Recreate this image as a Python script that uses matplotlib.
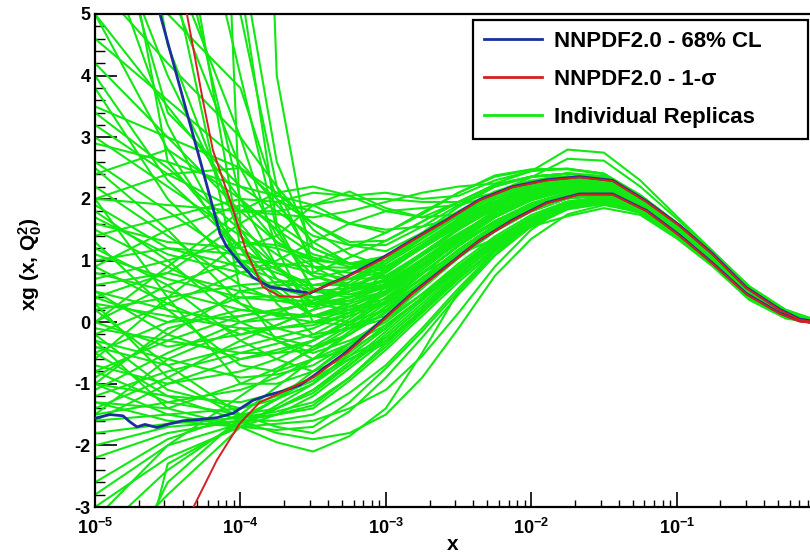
import numpy as np
import matplotlib
matplotlib.use("Agg")
import matplotlib.pyplot as plt
from matplotlib.ticker import LogLocator, NullFormatter, MultipleLocator

# ---------------- data (log10 x positions and xg values) ----------------
replica_logx = [-5, -4.5, -4, -3.75, -3.5, -3.25, -3, -2.75, -2.5, -2.25,
                -2, -1.75, -1.5, -1.25, -1, -0.75, -0.5, -0.25, 0]

replicas = [
    [-1.2, -0.8, -0.5, -0.35, -0.2, 0.1, 0.57, 1.00, 1.42, 1.78, 2.03, 2.17, 2.18, 1.93, 1.50, 1.03, 0.47, 0.13, -0.02],
    [0.8, 0.5, 0.2, 0.12, 0.1, 0.3, 0.82, 1.21, 1.60, 1.93, 2.14, 2.25, 2.23, 1.96, 1.52, 1.05, 0.50, 0.14, -0.02],
    [-0.3, -0.6, -0.9, -0.85, -0.7, -0.35, 0.07, 0.58, 1.06, 1.48, 1.80, 2.01, 2.06, 1.86, 1.44, 0.98, 0.43, 0.10, -0.03],
    [1.5, 0.9, 0.3, 0.1, 0.0, 0.2, 0.45, 0.85, 1.30, 1.70, 1.98, 2.15, 2.17, 1.92, 1.49, 1.02, 0.46, 0.12, -0.02],
    [0.2, 0.4, 0.6, 0.65, 0.7, 0.85, 1.07, 1.42, 1.77, 2.08, 2.25, 2.33, 2.29, 1.99, 1.55, 1.07, 0.52, 0.15, -0.02],
    [-1.5, -1.3, -1.1, -0.9, -0.6, -0.35, -0.05, 0.37, 0.88, 1.33, 1.69, 1.93, 2.00, 1.83, 1.41, 0.96, 0.41, 0.09, -0.03],
    [2.2, 1.4, 0.6, 0.35, 0.25, 0.4, 0.70, 1.12, 1.52, 1.86, 2.08, 2.20, 2.20, 1.95, 1.51, 1.04, 0.48, 0.13, -0.02],
    [-0.8, -0.3, 0.1, 0.2, 0.3, 0.5, 0.85, 1.25, 1.66, 2.00, 2.20, 2.30, 2.27, 1.98, 1.54, 1.06, 0.51, 0.15, -0.02],
    [0.5, -0.2, -0.6, -0.5, -0.3, 0.0, 0.32, 0.79, 1.24, 1.63, 1.91, 2.09, 2.12, 1.89, 1.47, 1.00, 0.45, 0.11, -0.03],
    [-1.0, -1.2, -1.3, -1.15, -0.9, -0.6, -0.35, 0.20, 0.72, 1.18, 1.58, 1.85, 1.95, 1.80, 1.39, 0.94, 0.38, 0.08, -0.04],
    [1.0, 1.2, 1.1, 0.95, 0.8, 1.05, 1.32, 1.63, 1.95, 2.23, 2.36, 2.41, 2.35, 2.02, 1.58, 1.09, 0.55, 0.16, -0.01],
    [-0.5, 0.0, 0.4, 0.42, 0.4, 0.5, 0.67, 1.08, 1.50, 1.84, 2.07, 2.20, 2.20, 1.94, 1.50, 1.03, 0.48, 0.13, -0.02],
    [0.0, -0.4, -0.2, -0.1, 0.0, 0.1, 0.30, 0.72, 1.17, 1.57, 1.87, 2.06, 2.10, 1.88, 1.46, 0.99, 0.44, 0.11, -0.03],
    [3.0, 2.2, 1.4, 0.9, 0.5, 0.55, 0.80, 1.22, 1.64, 1.96, 2.16, 2.27, 2.24, 1.96, 1.52, 1.05, 0.50, 0.14, -0.02],
    [-1.4, -0.9, -0.3, -0.05, 0.2, 0.6, 0.95, 1.35, 1.74, 2.05, 2.23, 2.31, 2.28, 1.98, 1.54, 1.06, 0.51, 0.15, -0.02],
    [0.3, 0.1, -0.1, -0.3, -0.5, -0.3, 0.0, 0.46, 0.95, 1.39, 1.74, 1.96, 2.02, 1.84, 1.42, 0.97, 0.42, 0.09, -0.03],
    [1.8, 1.0, 0.0, -0.25, -0.4, -0.2, 0.17, 0.66, 1.13, 1.54, 1.85, 2.04, 2.08, 1.87, 1.45, 0.99, 0.44, 0.10, -0.03],
    [-0.2, 0.3, 0.8, 0.9, 1.0, 1.2, 1.45, 1.78, 2.10, 2.36, 2.47, 2.48, 2.40, 2.06, 1.61, 1.12, 0.57, 0.18, -0.01],
    [-0.7, -1.0, -0.8, -0.6, -0.3, 0.05, 0.47, 0.92, 1.35, 1.72, 1.99, 2.14, 2.16, 1.92, 1.49, 1.02, 0.46, 0.12, -0.02],
    [0.6, 0.8, 0.5, 0.4, 0.3, 0.4, 0.60, 0.95, 1.30, 1.60, 1.85, 2.02, 2.07, 1.87, 1.44, 0.98, 0.43, 0.10, -0.03],
    [-1.1, -0.5, 0.0, 0.05, 0.1, 0.25, 0.50, 0.95, 1.40, 1.82, 2.12, 2.30, 2.29, 1.99, 1.55, 1.07, 0.52, 0.15, -0.02],
    [1.2, 0.6, -0.3, -0.6, -0.8, -0.55, -0.25, 0.25, 0.78, 1.24, 1.62, 1.88, 1.97, 1.81, 1.40, 0.95, 0.39, 0.08, -0.04],
    [2.6, 1.8, 1.0, 0.8, 0.6, 0.7, 1.00, 1.45, 1.87, 2.20, 2.36, 2.41, 2.35, 2.02, 1.58, 1.09, 0.55, 0.16, -0.01],
    [-1.6, -1.5, -1.4, -1.25, -1.0, -0.6, -0.30, 0.20, 0.70, 1.20, 1.62, 1.92, 2.02, 1.85, 1.43, 0.97, 0.42, 0.09, -0.03],
    [0.0, 0.6, 1.0, 0.95, 0.9, 0.88, 0.88, 1.26, 1.64, 1.96, 2.16, 2.27, 2.24, 1.96, 1.52, 1.05, 0.50, 0.14, -0.02],
    [-0.4, -0.7, -0.4, -0.25, -0.1, 0.15, 0.45, 0.90, 1.35, 1.76, 2.07, 2.23, 2.22, 1.95, 1.52, 1.05, 0.50, 0.14, -0.02],
    [9.0, 5.5, 2.5, 1.4, 0.75, 0.55, 0.57, 1.00, 1.42, 1.78, 2.03, 2.17, 2.18, 1.93, 1.50, 1.03, 0.47, 0.13, -0.02],
    [7.0, 4.0, 1.6, 0.9, 0.4, 0.25, 0.30, 0.70, 1.10, 1.50, 1.81, 2.01, 2.06, 1.86, 1.44, 0.98, 0.43, 0.10, -0.03],
    [12.0, 7.0, 2.0, 0.9, 0.3, 0.2, 0.32, 0.79, 1.24, 1.63, 1.91, 2.09, 2.12, 1.89, 1.47, 1.00, 0.45, 0.11, -0.03],
    [5.0, 3.5, 2.0, 1.3, 0.9, 0.8, 0.85, 1.21, 1.60, 1.93, 2.14, 2.25, 2.23, 1.96, 1.52, 1.05, 0.50, 0.14, -0.02],
    [4.2, 3.0, 1.8, 1.3, 1.0, 0.95, 1.07, 1.42, 1.77, 2.08, 2.25, 2.33, 2.29, 1.99, 1.55, 1.07, 0.52, 0.15, -0.02],
    [15.0, 8.0, 1.2, 0.3, -0.2, -0.1, 0.05, 0.45, 0.90, 1.33, 1.69, 1.93, 2.00, 1.83, 1.41, 0.96, 0.41, 0.09, -0.03],
    [6.0, 5.0, 3.8, 2.0, 1.0, 0.7, 0.72, 1.12, 1.52, 1.86, 2.08, 2.20, 2.20, 1.95, 1.51, 1.04, 0.48, 0.13, -0.02],
    [3.5, 3.0, 2.5, 2.0, 1.6, 1.3, 1.32, 1.63, 1.95, 2.23, 2.36, 2.41, 2.35, 2.02, 1.58, 1.09, 0.55, 0.16, -0.01],
    [8.0, 6.5, 5.0, 2.2, 0.9, 0.6, 0.55, 0.90, 1.28, 1.64, 1.91, 2.09, 2.12, 1.89, 1.47, 1.00, 0.45, 0.11, -0.03],
    [20.0, 10.0, 5.5, 1.6, 0.5, 0.4, 0.57, 1.00, 1.42, 1.78, 2.03, 2.17, 2.18, 1.93, 1.50, 1.03, 0.47, 0.13, -0.02],
    [2.9, 2.6, 2.2, 2.05, 1.9, 1.6, 1.45, 1.75, 2.10, 2.38, 2.48, 2.49, 2.41, 2.06, 1.61, 1.12, 0.57, 0.18, -0.01],
    [5.5, 4.2, 3.0, 2.2, 1.5, 1.1, 0.90, 1.23, 1.60, 1.93, 2.14, 2.25, 2.23, 1.96, 1.52, 1.05, 0.50, 0.14, -0.02],
    [10.0, 6.0, 3.0, 1.2, 0.0, -0.05, 0.10, 0.58, 1.06, 1.48, 1.80, 2.01, 2.06, 1.86, 1.44, 0.98, 0.43, 0.10, -0.03],
    [3.8, 2.0, 0.8, 0.55, 0.4, 0.5, 0.62, 1.02, 1.42, 1.78, 2.03, 2.17, 2.18, 1.93, 1.50, 1.03, 0.47, 0.13, -0.02],
    [6.5, 3.2, 1.0, 0.45, 0.1, 0.2, 0.38, 0.80, 1.24, 1.63, 1.91, 2.09, 2.12, 1.89, 1.47, 1.00, 0.45, 0.11, -0.03],
    [25.0, 12.0, 6.0, 2.6, 1.2, 0.95, 1.00, 1.38, 1.77, 2.08, 2.25, 2.33, 2.29, 1.99, 1.55, 1.07, 0.52, 0.15, -0.02],
    [2.4, 2.8, 2.0, 1.5, 1.1, 0.95, 0.90, 1.24, 1.60, 1.93, 2.14, 2.25, 2.23, 1.96, 1.52, 1.05, 0.50, 0.14, -0.02],
    [4.6, 3.6, 2.6, 1.9, 1.3, 0.95, 0.75, 1.08, 1.44, 1.78, 2.03, 2.17, 2.18, 1.93, 1.50, 1.03, 0.47, 0.13, -0.02],
    [-3.5, -2.4, -1.6, -1.25, -0.8, -0.35, 0.05, 0.45, 0.90, 1.33, 1.69, 1.93, 2.00, 1.83, 1.41, 0.96, 0.41, 0.09, -0.03],
    [-3.0, -2.2, -1.7, -1.5, -1.2, -0.75, -0.30, 0.16, 0.71, 1.18, 1.58, 1.85, 1.95, 1.80, 1.39, 0.94, 0.38, 0.08, -0.04],
    [-2.6, -1.9, -1.5, -1.05, -0.6, -0.15, 0.25, 0.65, 1.08, 1.48, 1.80, 2.01, 2.06, 1.86, 1.44, 0.98, 0.43, 0.10, -0.03],
    [-4.0, -2.8, -1.7, -1.35, -1.0, -0.5, -0.05, 0.40, 0.88, 1.33, 1.69, 1.93, 2.00, 1.83, 1.41, 0.96, 0.41, 0.09, -0.03],
    [-2.2, -1.8, -1.6, -1.5, -1.4, -0.95, -0.45, 0.10, 0.65, 1.15, 1.58, 1.85, 1.95, 1.80, 1.39, 0.94, 0.38, 0.08, -0.04],
    [-3.2, -2.0, -1.2, -0.8, -0.4, -0.05, 0.35, 0.79, 1.24, 1.63, 1.91, 2.09, 2.12, 1.89, 1.47, 1.00, 0.45, 0.11, -0.03],
    [1.6, 1.3, 1.2, 1.4, 1.9, 2.12, 1.85, 1.70, 1.95, 2.23, 2.36, 2.41, 2.35, 2.02, 1.58, 1.09, 0.55, 0.16, -0.01],
    [0.4, 0.8, 1.6, 1.95, 2.1, 2.05, 2.10, 2.00, 2.05, 2.30, 2.45, 2.49, 2.41, 2.06, 1.61, 1.12, 0.57, 0.18, -0.01],
    [2.0, 1.9, 1.8, 1.75, 1.7, 1.8, 1.95, 2.10, 2.20, 2.25, 2.45, 2.80, 2.75, 2.30, 1.72, 1.15, 0.58, 0.20, 0.00],
    [-1.0, -1.5, -1.7, -1.95, -2.1, -1.85, -1.40, -0.50, 0.50, 1.15, 1.58, 1.85, 1.95, 1.80, 1.39, 0.94, 0.38, 0.08, -0.04],
    [-0.5, -1.2, -1.6, -1.8, -1.9, -1.8, -1.50, -0.90, -0.10, 0.75, 1.35, 1.75, 1.90, 1.79, 1.38, 0.93, 0.40, 0.08, -0.04],
    [-1.3, -1.6, -1.7, -1.65, -1.6, -1.4, -1.10, -0.55, 0.15, 0.90, 1.50, 1.90, 2.00, 1.83, 1.41, 0.96, 0.41, 0.09, -0.03],
    [0.2, -0.7, -1.5, -1.7, -1.8, -1.45, -0.90, -0.25, 0.45, 1.08, 1.55, 1.83, 1.92, 1.77, 1.37, 0.93, 0.38, 0.07, -0.04],
    [1.4, 1.7, 2.0, 1.95, 1.8, 1.6, 1.50, 1.55, 1.70, 1.95, 2.20, 2.34, 2.31, 2.01, 1.55, 1.07, 0.52, 0.16, -0.01],
    [3.2, 2.4, 1.8, 1.8, 1.9, 2.0, 2.00, 1.95, 1.95, 2.10, 2.35, 2.65, 2.62, 2.20, 1.68, 1.13, 0.58, 0.20, 0.00],
    [-2.0, -1.7, -1.6, -1.6, -1.5, -1.15, -0.70, -0.10, 0.55, 1.15, 1.62, 1.95, 2.04, 1.85, 1.43, 0.97, 0.42, 0.10, -0.03],
    [-7.0, -2.3, -1.65, -1.4, -1.1, -0.65, -0.15, 0.35, 0.85, 1.30, 1.69, 1.93, 2.00, 1.83, 1.41, 0.96, 0.41, 0.09, -0.03],
    [-5.0, -2.6, -1.55, -1.25, -0.9, -0.45, 0.05, 0.55, 1.04, 1.47, 1.80, 2.01, 2.06, 1.86, 1.44, 0.98, 0.43, 0.10, -0.03],
    [60.0, 30.0, 1.5, 0.7, 0.3, 0.35, 0.57, 1.00, 1.42, 1.78, 2.03, 2.17, 2.18, 1.93, 1.50, 1.03, 0.47, 0.13, -0.02],
    [80.0, 50.0, 20.0, 4.0, 0.8, 0.7, 0.82, 1.21, 1.60, 1.93, 2.14, 2.25, 2.23, 1.96, 1.52, 1.05, 0.50, 0.14, -0.02],
    [9.0, 2.6, 1.2, 0.6, 0.1, 0.15, 0.32, 0.79, 1.24, 1.63, 1.91, 2.09, 2.12, 1.89, 1.47, 1.00, 0.45, 0.11, -0.03],
    [7.5, 3.4, 2.2, 1.8, 1.4, 1.25, 1.25, 1.55, 1.90, 2.20, 2.36, 2.41, 2.35, 2.02, 1.58, 1.09, 0.55, 0.16, -0.01],
    [0.9, 0.3, -0.2, -0.05, 0.2, 0.35, 0.50, 0.80, 1.10, 1.35, 1.55, 1.72, 1.85, 1.74, 1.36, 0.90, 0.36, 0.06, -0.04],
    [1.3, 0.2, -0.7, -0.8, -0.6, -0.2, 0.25, 0.72, 1.18, 1.58, 1.88, 2.07, 2.11, 1.89, 1.46, 1.00, 0.45, 0.11, -0.03],
    [-0.9, -0.2, 0.5, 0.6, 0.6, 0.7, 0.90, 1.25, 1.62, 1.95, 2.15, 2.26, 2.24, 1.97, 1.53, 1.05, 0.50, 0.14, -0.02],
    [2.0, 0.4, -1.0, -1.0, -0.8, -0.4, 0.05, 0.55, 1.05, 1.48, 1.80, 2.01, 2.06, 1.86, 1.44, 0.98, 0.43, 0.10, -0.03],
    [-1.6, -1.0, -0.6, -0.45, -0.3, 0.0, 0.40, 0.85, 1.30, 1.70, 1.98, 2.14, 2.16, 1.92, 1.49, 1.02, 0.46, 0.12, -0.02],
    [0.7, 1.0, 1.3, 1.2, 1.0, 0.95, 1.05, 1.38, 1.73, 2.05, 2.24, 2.33, 2.29, 1.99, 1.55, 1.07, 0.52, 0.15, -0.02],
    [-0.1, -0.3, -0.5, -0.5, -0.45, -0.2, 0.15, 0.62, 1.10, 1.52, 1.84, 2.04, 2.08, 1.87, 1.45, 0.99, 0.44, 0.10, -0.03],
    [1.1, 0.7, 0.4, 0.35, 0.35, 0.5, 0.70, 1.10, 1.50, 1.85, 2.08, 2.20, 2.20, 1.94, 1.51, 1.04, 0.48, 0.13, -0.02],
    [-1.3, -1.4, -1.0, -0.75, -0.45, -0.1, 0.30, 0.78, 1.24, 1.64, 1.93, 2.11, 2.14, 1.90, 1.48, 1.01, 0.46, 0.12, -0.02],
    [2.5, 1.5, 0.3, -0.1, -0.25, -0.1, 0.20, 0.65, 1.12, 1.55, 1.88, 2.08, 2.12, 1.89, 1.47, 1.00, 0.45, 0.11, -0.03],
    [0.4, 0.0, 0.1, 0.2, 0.3, 0.55, 0.85, 1.20, 1.57, 1.90, 2.12, 2.24, 2.22, 1.96, 1.52, 1.05, 0.50, 0.14, -0.02],
    [-0.6, 0.4, 1.3, 1.25, 1.05, 0.9, 0.90, 1.20, 1.55, 1.88, 2.10, 2.23, 2.23, 1.96, 1.52, 1.05, 0.50, 0.14, -0.02],
    [1.9, 1.2, 0.9, 0.7, 0.5, 0.45, 0.55, 0.95, 1.38, 1.76, 2.02, 2.16, 2.17, 1.92, 1.49, 1.02, 0.46, 0.12, -0.02],
    [-1.5, -0.6, -0.1, -0.1, -0.05, 0.15, 0.50, 0.92, 1.35, 1.72, 1.99, 2.14, 2.16, 1.92, 1.49, 1.02, 0.46, 0.12, -0.02],
    [3.4, 2.5, 1.5, 1.1, 0.75, 0.6, 0.65, 1.02, 1.42, 1.78, 2.03, 2.17, 2.18, 1.93, 1.50, 1.03, 0.47, 0.13, -0.02],
    [4.0, 2.3, 1.2, 0.85, 0.6, 0.6, 0.75, 1.12, 1.52, 1.88, 2.10, 2.22, 2.21, 1.95, 1.51, 1.04, 0.49, 0.13, -0.02],
    [-0.2, -1.1, -1.4, -1.2, -0.95, -0.55, -0.10, 0.40, 0.90, 1.35, 1.70, 1.94, 2.01, 1.84, 1.42, 0.97, 0.42, 0.09, -0.03],
    [0.9, 1.5, 1.9, 1.6, 1.2, 0.95, 0.95, 1.30, 1.68, 2.01, 2.20, 2.29, 2.26, 1.97, 1.53, 1.06, 0.51, 0.15, -0.02],
    [-1.0, -0.1, 0.2, 0.15, 0.1, 0.25, 0.50, 0.90, 1.32, 1.70, 1.98, 2.14, 2.16, 1.92, 1.49, 1.02, 0.46, 0.12, -0.02],
    [11.0, 4.5, 1.4, 0.7, 0.3, 0.3, 0.50, 0.90, 1.33, 1.72, 2.00, 2.15, 2.17, 1.92, 1.49, 1.02, 0.46, 0.12, -0.02],
    [14.0, 9.0, 4.0, 1.5, 0.55, 0.45, 0.60, 1.00, 1.42, 1.80, 2.05, 2.19, 2.19, 1.94, 1.50, 1.03, 0.47, 0.13, -0.02],
    [2.0, 2.4, 2.5, 2.1, 1.6, 1.25, 1.15, 1.45, 1.80, 2.12, 2.30, 2.37, 2.32, 2.00, 1.56, 1.08, 0.53, 0.16, -0.01],
    [-2.8, -2.0, -1.65, -1.4, -1.1, -0.7, -0.25, 0.25, 0.78, 1.24, 1.62, 1.88, 1.97, 1.81, 1.40, 0.95, 0.39, 0.08, -0.04],
    [-1.8, -1.65, -1.55, -1.45, -1.3, -0.9, -0.40, 0.15, 0.70, 1.20, 1.60, 1.87, 1.96, 1.80, 1.39, 0.94, 0.38, 0.08, -0.04],
    [0.3, -0.9, -1.55, -1.5, -1.35, -0.9, -0.35, 0.20, 0.75, 1.25, 1.65, 1.90, 1.98, 1.82, 1.40, 0.95, 0.40, 0.08, -0.04],
    [5.0, 2.8, 1.0, 0.5, 0.1, 0.0, 0.20, 0.65, 1.12, 1.55, 1.88, 2.08, 2.12, 1.89, 1.47, 1.00, 0.45, 0.11, -0.03],
    [1.7, 1.1, 0.8, 1.0, 1.3, 1.6, 1.80, 1.85, 1.90, 2.05, 2.28, 2.42, 2.37, 2.03, 1.59, 1.10, 0.55, 0.17, -0.01],
    [-0.3, -1.4, -1.7, -1.75, -1.7, -1.3, -0.75, -0.15, 0.50, 1.10, 1.60, 1.90, 2.00, 1.83, 1.41, 0.96, 0.41, 0.09, -0.03],
    [0.0, 0.9, 1.8, 2.1, 2.2, 2.05, 1.80, 1.70, 1.75, 1.95, 2.20, 2.35, 2.33, 2.01, 1.56, 1.08, 0.53, 0.16, -0.01],
    [18.0, 6.0, 0.5, -0.3, -0.6, -0.45, -0.10, 0.40, 0.90, 1.35, 1.70, 1.94, 2.01, 1.84, 1.42, 0.97, 0.42, 0.09, -0.03],
    [0.5, 0.2, 0.0, 0.15, 0.35, 0.65, 1.00, 1.35, 1.72, 2.05, 2.24, 2.33, 2.29, 1.99, 1.55, 1.07, 0.52, 0.15, -0.02],
    [-0.8, -1.3, -1.5, -1.4, -1.15, -0.7, -0.20, 0.30, 0.82, 1.28, 1.65, 1.90, 1.98, 1.82, 1.40, 0.95, 0.40, 0.08, -0.04],
]

cl68_up_logx = [-4.59, -4.553, -4.368, -4.278, -4.141, -4.093, -4.003, -3.914, -3.797, -3.660,
                -3.522, -3.385, -3.268, -3.041, -2.814, -2.581, -2.354, -2.127, -1.893, -1.667,
                -1.440, -1.206, -0.979, -0.753, -0.519, -0.292, -0.155, 0.0]
cl68_up = [5.4, 5.0, 3.4, 2.63, 1.44, 1.22, 0.96, 0.73, 0.57, 0.52,
           0.47, 0.62, 0.74, 1.02, 1.34, 1.66, 1.99, 2.20, 2.31, 2.36,
           2.30, 1.96, 1.57, 1.11, 0.56, 0.21, 0.05, -0.01]

cl68_lo_logx = [-5.0, -4.897, -4.808, -4.759, -4.711, -4.656, -4.574, -4.485, -4.395, -4.278,
                -4.162, -4.052, -3.914, -3.818, -3.708, -3.591, -3.502, -3.268, -3.041, -2.814,
                -2.581, -2.354, -2.127, -1.893, -1.667, -1.440, -1.206, -0.979, -0.753, -0.519,
                -0.292, -0.155, 0.0]
cl68_lo = [-1.56, -1.50, -1.52, -1.62, -1.70, -1.66, -1.71, -1.65, -1.60, -1.58,
           -1.55, -1.48, -1.27, -1.19, -1.12, -1.02, -0.88, -0.48, 0.0, 0.48,
           0.91, 1.33, 1.66, 1.94, 2.08, 2.08, 1.81, 1.41, 0.96, 0.46,
           0.15, 0.02, -0.02]

sigma_up_logx = [-4.45, -4.368, -4.258, -4.189, -4.072, -3.955, -3.845, -3.729, -3.591, -3.502,
                 -3.268, -3.041, -2.814, -2.581, -2.354, -2.127, -1.893, -1.667, -1.440, -1.206,
                 -0.979, -0.753, -0.519, -0.292, -0.155, 0.0]
sigma_up = [5.7, 5.0, 3.6, 2.79, 1.98, 1.12, 0.57, 0.42, 0.41, 0.50,
            0.73, 1.0, 1.33, 1.65, 1.98, 2.19, 2.30, 2.35, 2.29, 1.95,
            1.56, 1.10, 0.55, 0.20, 0.04, -0.02]

sigma_lo_logx = [-4.36, -4.333, -4.162, -4.003, -3.866, -3.708, -3.502, -3.268, -3.041, -2.814,
                 -2.581, -2.354, -2.127, -1.893, -1.667, -1.440, -1.206, -0.979, -0.753, -0.519,
                 -0.292, -0.155, 0.0]
sigma_lo = [-3.15, -3.05, -2.24, -1.64, -1.30, -1.13, -0.90, -0.50, -0.02, 0.47,
            0.90, 1.33, 1.65, 1.93, 2.07, 2.07, 1.80, 1.40, 0.95, 0.45,
            0.14, 0.01, -0.03]

xtick_vals = [1e-5, 1e-4, 1e-3, 1e-2, 1e-1]
xtick_labels = [r"$10^{-5}$", r"$10^{-4}$", r"$10^{-3}$", r"$10^{-2}$", r"$10^{-1}$"]
ytick_vals = [-3, -2, -1, 0, 1, 2, 3, 4, 5]
legend_labels = ["NNPDF2.0 - 68% CL", "NNPDF2.0 - 1-σ", "Individual Replicas"]

# ---------------- style ----------------
plt.rcParams["font.family"] = ["Liberation Sans", "DejaVu Sans"]
plt.rcParams["font.weight"] = "bold"
plt.rcParams["mathtext.fontset"] = "custom"
plt.rcParams["mathtext.rm"] = "Liberation Sans:bold"
plt.rcParams["mathtext.it"] = "Liberation Sans:bold"
plt.rcParams["mathtext.bf"] = "Liberation Sans:bold"
plt.rcParams["mathtext.default"] = "rm"
plt.rcParams["axes.unicode_minus"] = False

GREEN = "#12e812"
BLUE = "#1c2f9c"
RED = "#d42020"

fig = plt.figure(figsize=(8.1, 5.54), dpi=100)
ax = fig.add_axes([95 / 810, 1 - 507 / 554, 727 / 810, 493 / 554])
ax.set_xscale("log")

rx = 10 ** np.array(replica_logx, dtype=float)
hg = None
for row in replicas:
    (h,) = ax.plot(rx, row, color=GREEN, lw=1.5, solid_joinstyle="round", zorder=2)
    if hg is None:
        hg = h

(hb,) = ax.plot(10 ** np.array(cl68_up_logx), cl68_up, color=BLUE, lw=2.0, zorder=3)
ax.plot(10 ** np.array(cl68_lo_logx), cl68_lo, color=BLUE, lw=2.0, zorder=3)
(hr,) = ax.plot(10 ** np.array(sigma_up_logx), sigma_up, color=RED, lw=1.4, zorder=4)
ax.plot(10 ** np.array(sigma_lo_logx), sigma_lo, color=RED, lw=1.4, zorder=4)

ax.set_xlim(1e-5, 1)
ax.set_ylim(-3, 5)

ax.set_xticks(xtick_vals)
ax.set_xticklabels(xtick_labels)
ax.xaxis.set_minor_locator(LogLocator(base=10, subs=range(2, 10)))
ax.xaxis.set_minor_formatter(NullFormatter())
ax.set_yticks(ytick_vals)
ax.set_yticklabels([str(v) for v in ytick_vals])
ax.yaxis.set_minor_locator(MultipleLocator(0.2))

ax.tick_params(axis="x", which="major", direction="in", length=11, width=1.2, pad=8, labelsize=13)
ax.tick_params(axis="x", which="minor", direction="in", length=5, width=1.0)
ax.tick_params(axis="y", which="major", direction="in", length=16, width=1.2, pad=3, labelsize=13)
ax.tick_params(axis="y", which="minor", direction="in", length=7.5, width=1.0)
ax.tick_params(which="both", top=False, right=False)
for s in ax.spines.values():
    s.set_linewidth(1.6)

ax.set_xlabel("x", fontsize=15, fontweight="bold", va="center")
ax.xaxis.set_label_coords((453 - 95) / 727, (507 - 545) / 493)
ax.set_ylabel("xg (x, Q$_0^2$)", fontsize=15, fontweight="bold", va="center")
ax.yaxis.set_label_coords((30 - 95) / 727, (507 - 264) / 493)

leg = ax.legend(
    handles=[hb, hr, hg], labels=legend_labels,
    loc="upper left",
    bbox_to_anchor=(473 / 810, 1 - 142 / 554, (808 - 473) / 810, (142 - 20) / 554),
    bbox_transform=fig.transFigure, mode="expand",
    fancybox=False, edgecolor="black", framealpha=1, fontsize=16,
    handlelength=2.6, handletextpad=0.55, borderaxespad=0, borderpad=0.5,
    labelspacing=0.76,
)
leg.get_frame().set_linewidth(1.6)
for line in leg.get_lines():
    line.set_linewidth(2.0)

fig.savefig("out.png", dpi=100)
